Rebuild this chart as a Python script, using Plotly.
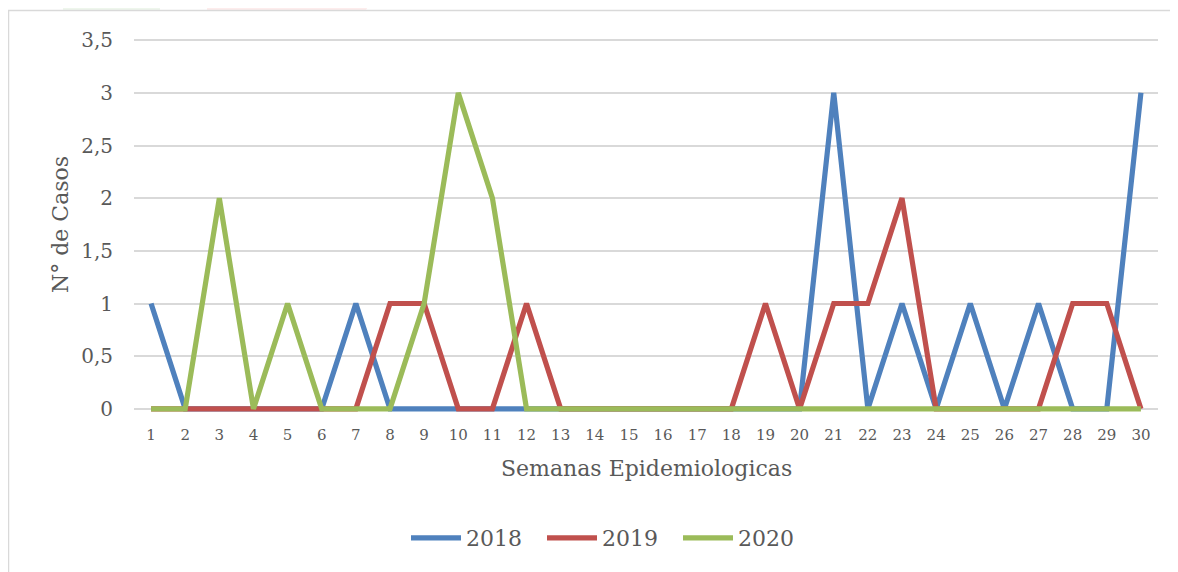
import plotly.graph_objects as go

weeks = list(range(1, 31))
week_labels = [str(w) for w in weeks]

cases_2018 = [1, 0, 0, 0, 0, 0, 1, 0, 0, 0, 0, 0, 0, 0, 0, 0, 0, 0, 0, 0, 3, 0, 1, 0, 1, 0, 1, 0, 0, 3]
cases_2019 = [0, 0, 0, 0, 0, 0, 0, 1, 1, 0, 0, 1, 0, 0, 0, 0, 0, 0, 1, 0, 1, 1, 2, 0, 0, 0, 0, 1, 1, 0]
cases_2020 = [0, 0, 2, 0, 1, 0, 0, 0, 1, 3, 2, 0, 0, 0, 0, 0, 0, 0, 0, 0, 0, 0, 0, 0, 0, 0, 0, 0, 0, 0]

y_ticks = [0, 0.5, 1, 1.5, 2, 2.5, 3, 3.5]
y_tick_labels = ["0", "0,5", "1", "1,5", "2", "2,5", "3", "3,5"]

series = [
    ("2018", cases_2018, "#4f81bd"),
    ("2019", cases_2019, "#c0504d"),
    ("2020", cases_2020, "#9bbb59"),
]

FONT = "DejaVu Serif"
GRAY = "#595959"

# the page body has an 8px margin; figure is sized/shifted to compensate
OFF = 8
WIDTH, HEIGHT = 1178 - OFF, 572 - OFF
# plot-area geometry in page pixels
L, R, T, B = 134, 1158, 37, 412
PW, PH = R - L, B - T


def px(x):
    return (x - L) / PW


def py(y):
    return (B - y) / PH


fig = go.Figure()
for name, vals, color in series:
    fig.add_trace(go.Scatter(
        x=weeks, y=vals, mode="lines", name=name,
        line=dict(color=color, width=5.2),
    ))

shapes = [
    # faint background watermark pieces
    dict(type="rect", xref="paper", yref="paper", layer="below",
         x0=px(63), x1=px(160), y0=py(10), y1=py(0),
         fillcolor="#eef6ec", line=dict(width=0)),
    dict(type="path", xref="paper", yref="paper", layer="below",
         path=f"M {px(207)} {py(0)} L {px(372)} {py(0)} L {px(366)} {py(10)} L {px(207)} {py(10)} Z",
         fillcolor="#fdecec", line=dict(width=0)),
    # chart border
    dict(type="rect", xref="paper", yref="paper", layer="below",
         x0=px(8.5), x1=px(1200), y0=py(600), y1=py(10.5),
         fillcolor="rgba(0,0,0,0)", line=dict(color="#d9d9d9", width=1.5)),
]

annotations = [
    dict(text="Semanas Epidemiologicas", xref="paper", yref="paper",
         x=px(646), y=py(469), xanchor="center", yanchor="middle",
         showarrow=False, font=dict(family=FONT, size=22, color=GRAY)),
    dict(text="N° de Casos", xref="paper", yref="paper",
         x=px(60), y=py(225), xanchor="center", yanchor="middle", textangle=-90,
         showarrow=False, font=dict(family=FONT, size=22, color=GRAY)),
]

fig.update_layout(
    width=WIDTH, height=HEIGHT,
    margin=dict(l=L - OFF, r=WIDTH - (R - OFF), t=T - OFF, b=HEIGHT - (B - OFF)),
    paper_bgcolor="white", plot_bgcolor="white",
    showlegend=True,
    legend=dict(orientation="h", xanchor="center", yanchor="middle",
                x=px(610), y=py(538),
                font=dict(family=FONT, size=22, color=GRAY),
                itemwidth=50, entrywidth=71, entrywidthmode="pixels",
                tracegroupgap=0),
    shapes=shapes,
    annotations=annotations,
    xaxis=dict(
        type="linear", range=[0.5, 30.5], tickmode="array",
        tickvals=weeks, ticktext=week_labels,
        showgrid=False, zeroline=False, showline=False,
        ticks="", ticklabelstandoff=12,
        tickfont=dict(family=FONT, size=15, color=GRAY),
        fixedrange=True,
    ),
    yaxis=dict(
        range=[-0.03, 3.53], tickmode="array",
        tickvals=y_ticks, ticktext=y_tick_labels,
        showgrid=True, gridcolor="#d9d9d9", gridwidth=1.5,
        zeroline=False, showline=False, ticks="",
        ticklabelstandoff=20,
        tickfont=dict(family=FONT, size=20, color=GRAY),
        fixedrange=True,
    ),
)

fig.write_html("out.html")
